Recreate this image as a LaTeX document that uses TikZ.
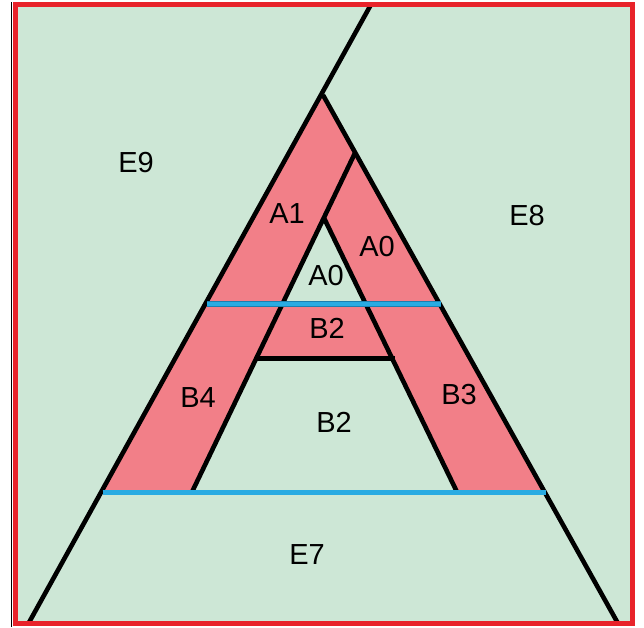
\documentclass[tikz,border=0pt]{standalone}
\usepackage{fontspec}
\setmainfont{Liberation Sans}
\definecolor{bggreen}{HTML}{CDE7D6}
\definecolor{apink}{HTML}{F27F88}
\definecolor{ablue}{HTML}{29ABE2}
\definecolor{ablueedge}{HTML}{1B7FB0}
\definecolor{fred}{HTML}{E8232A}
\tikzset{
  blk/.style={draw=black,line width=4.6pt,line cap=butt,line join=miter},
  bluebar/.style={draw=ablueedge,line width=5.6pt,line cap=butt},
  bluein/.style={draw=ablue,line width=4.2pt,line cap=butt},
  lbl/.style={font=\fontsize{29}{31}\selectfont,inner sep=0pt,anchor=center,text=black}
}
\begin{document}
\begin{tikzpicture}[x=1pt,y=-1pt]
\useasboundingbox (0,0) rectangle (644,627);
% background
\fill[bggreen] (15,4) rectangle (633,624);
\begin{scope}
\clip (15,4) rectangle (633,624);
% pink A shape
\fill[apink] (323,95) -- (546,492) -- (457,492) -- (393,358.5) -- (257,358.5)
  -- (192,492) -- (102.5,492) -- cycle;
% inner green triangle above blue bar
\fill[bggreen] (324,218) -- (366,304) -- (283,304) -- cycle;
% black lines
\draw[blk] (373.5,0) -- (26.5,627);
\draw[blk] (323,95) -- (620,627);
\draw[blk] (355,153) -- (192,492);
\draw[blk] (324,218) -- (457,492);
\draw[blk] (255,358.5) -- (395,358.5);
% blue bars
\draw[bluebar] (207,304) -- (441,304);
\draw[bluein] (207,304) -- (441,304);
\draw[bluebar] (102.5,492.5) -- (546,492.5);
\draw[bluein] (102.5,492.5) -- (546,492.5);
\end{scope}
% frame
\draw[black,line width=1.5pt] (11.5,2) -- (11.5,627);
\draw[fred,line width=5pt] (15.5,4.5) rectangle (632.5,623.5);
% labels
\node[lbl] (e9) at (136,163) {E9};
\node[lbl] (e8) at (527,216) {E8};
\node[lbl] (a1) at (287,214) {A1};
\node[lbl] (a0r) at (377,247) {A0};
\node[lbl] (a0i) at (326,276) {A0};
\node[lbl] (b2u) at (327,328) {B2};
\node[lbl] (b4) at (198,398) {B4};
\node[lbl] (b3) at (459,395) {B3};
\node[lbl] (b2l) at (334,422) {B2};
\node[lbl] (e7) at (307,555) {E7};
\end{tikzpicture}
\end{document}
